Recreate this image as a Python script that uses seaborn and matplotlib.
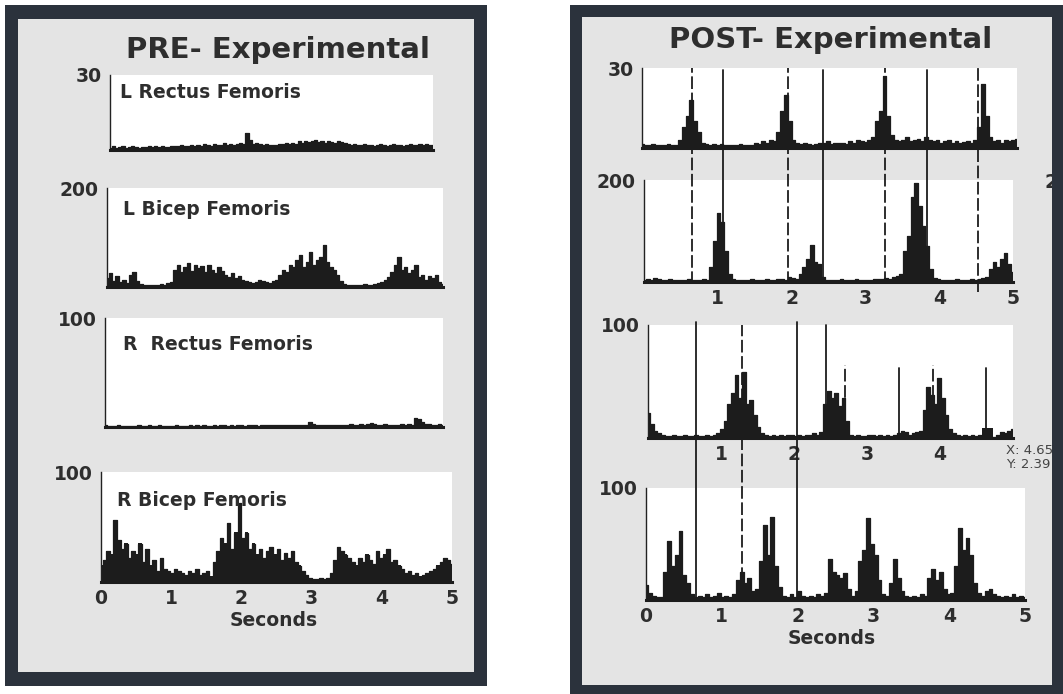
import numpy as np
import matplotlib
matplotlib.use("Agg")
import matplotlib.pyplot as plt
import seaborn as sns
from matplotlib.patches import Rectangle

# ---------------- data (EMG envelopes, 100 samples over 5 s) ----------------
pre_l_rectus = [1, 1.5, 1, 1.2, 1.8, 1, 1.3, 1.5, 1.2, 1, 1.4, 1.2, 1.8, 1.3, 1.5, 1.2, 1.6, 1.4, 1.2, 1.5,
                1.5, 1.8, 2, 1.6, 1.8, 2.2, 1.7, 2, 1.8, 2.4, 2, 1.8, 2.5, 2, 2.2, 2.8, 2, 2.4, 2.2, 2.6,
                3, 2.5, 7, 4, 2.5, 3, 2.4, 2, 2.5, 2.2, 2.2, 2, 2.5, 2.3, 2.8, 2.5, 3, 2.6, 3.5, 3,
                3.8, 3.2, 3.5, 4, 3.2, 3.6, 3, 3.8, 3.4, 3, 3.5, 3.2, 2.8, 2.5, 2.2, 2.4, 2, 2.2, 2.5, 2,
                2.2, 1.8, 2, 2.4, 2, 1.8, 2.2, 2.5, 2, 2.2, 1.8, 2, 2.6, 2.2, 2, 2.4, 2, 2.6, 2.2, 2]
pre_l_bicep = [18, 28, 12, 22, 10, 15, 8, 25, 30, 12, 6, 5, 4, 5, 4, 5, 6, 5, 8, 10,
               35, 45, 30, 40, 48, 32, 45, 38, 42, 30, 44, 35, 28, 40, 32, 25, 20, 28, 18, 22,
               15, 12, 10, 8, 10, 14, 12, 10, 8, 12,
               15, 25, 35, 30, 45, 40, 55, 65, 40, 50, 70, 45, 55, 60, 85, 50, 40, 35, 25, 12,
               6, 5, 4, 5, 4, 5, 6, 5, 4, 6, 8, 10,
               15, 20, 30, 45, 60, 35, 40, 28, 35, 45, 20, 25, 15, 22, 18, 25, 10, 6]
pre_r_rectus = [1.5, 1, 1.2, 1, 1.5, 1.2, 1, 1.3, 1, 1.2, 1.5, 1.2, 1, 1.4, 1.2, 1, 1.5, 1.2, 1.3, 1,
                1.2, 1.5, 1, 1.3, 1.2, 1.6, 1.2, 1.4, 1.2, 1.5, 1.3, 1.2, 1.5, 1.2, 1.6, 1.4, 1.2, 1.5, 1.3, 1.4,
                1.5, 1.3, 1.6, 1.4, 1.5, 1.3, 1.6, 1.5, 1.4, 1.6, 1.5, 1.7, 1.5, 1.6, 1.8, 1.5, 1.7, 1.6, 2, 1.8,
                5, 3, 2, 1.8, 2, 1.8, 2, 1.7, 1.9, 2, 2.2, 2, 2.5, 2.2, 2, 2.4, 2.2, 2.5, 3.5, 2.5,
                2.2, 2, 2.4, 2.2, 2, 2.2, 2, 2.3, 2.2, 2.4, 2.2, 8, 7, 5, 3, 2.5, 2.2, 2, 2.4, 2.2]
pre_r_bicep = [15, 20, 28, 25, 56, 38, 30, 35, 22, 28, 25, 35, 18, 30, 15, 20, 10, 22, 12, 10,
               8, 12, 10, 8, 6, 10, 8, 12, 6, 8, 10, 5, 18, 28, 40, 35, 54, 30, 45, 72,
               40, 45, 30, 35, 25, 30, 22, 28, 32, 25, 30, 20, 26, 22, 28, 18, 15, 10, 6, 4,
               3, 3, 4, 3, 4, 8, 20, 32, 28, 25, 22, 18,
               15, 22, 18, 25, 20, 16, 28, 22, 25, 30, 18, 20, 15, 12,
               8, 10, 6, 8, 5, 6, 8, 10, 12, 15, 18, 22, 20, 16]

post_1 = [1.5, 1, 1.2, 1.5, 1, 1.3, 1.2, 1.5, 1, 1.2, 3, 8, 12, 18, 10, 6, 2, 1.5, 1.2, 1.5,
          1.2, 1.5, 1, 1.3, 1.2, 1, 1.5, 1.2, 1, 1.3, 2, 1.5, 2.5, 2, 3, 2.5,
          6, 14, 20, 10, 3, 2,
          1.5, 2, 1.5, 1.2, 1.5, 2, 1.8, 2.5, 1.5, 2, 1.8, 2, 1.5, 2.5, 2, 3, 2.5, 2.2, 3, 4,
          10, 14, 27, 12, 5,
          3, 2.5, 3, 4, 2.5, 3, 3.5, 2.5, 4, 3, 2.5, 3, 2, 2.5, 3, 2, 2.5, 2, 2.2, 2.5, 2, 3,
          8, 24, 12, 4, 2.5, 3, 2, 3, 2.5, 3, 3.5]
post_2 = [3, 5, 4, 8, 6, 4, 3, 5, 4, 3, 4, 3, 5, 4, 3, 4, 5, 4,
          30, 80, 135, 118, 60,
          15, 6, 4, 3, 4, 3, 5, 4, 3, 4, 5, 3, 4, 6, 5, 4, 10, 8, 6,
          15, 30, 45, 72, 40, 35, 10,
          4, 3, 4, 3, 5, 4, 3, 4, 5, 3, 4, 3, 4, 5, 6, 5, 8, 6, 10, 12, 15,
          60, 90, 166, 195, 150, 110, 70, 25,
          8, 5, 4, 3, 4, 3, 5, 4, 3, 4, 5, 4, 6, 8, 10,
          25, 40, 30, 45, 57, 35, 20]
post_3 = [22, 12, 6, 4, 3, 2, 2, 3, 2, 2, 3, 2, 2, 3, 2, 2, 3, 2, 3, 4,
          8, 15, 30, 40, 56, 35, 58, 30, 34, 20, 10,
          4, 3, 2, 3, 2, 3, 2, 3, 3, 2, 3, 2, 3, 3, 4, 3, 5,
          30, 42, 35, 40, 28, 35, 15,
          3, 2, 3, 2, 2, 3, 3, 2, 3, 2, 3, 2, 3, 4, 6, 5, 3, 4, 5, 6,
          25, 45, 38, 30, 53, 35, 20,
          8, 4, 3, 2, 3, 2, 3, 2, 3, 1, 1, 1, 1, 3, 5, 4, 6, 8]
post_4 = [13, 6, 4, 3, 3, 25, 53, 30, 40, 62, 22, 15,
          5, 3, 4, 3, 5, 3, 4, 6, 3, 4, 3, 5,
          18, 25, 15, 20, 8, 10, 35, 67, 40, 74, 30, 12,
          4, 3, 5, 3, 8, 4, 3, 4, 3, 5, 4, 6,
          37, 25, 22, 20, 24, 10, 4, 8, 35, 45, 73, 50, 40, 18, 5, 4,
          15, 37, 20, 8, 4, 3, 4, 3, 5, 4, 20, 28, 18, 25, 10, 5, 6,
          30, 64, 45, 55, 40, 15, 6, 4, 8, 10, 5, 4, 3, 4, 3, 5, 3, 4, 3]

pre_labels = ["L Rectus Femoris", "L Bicep Femoris", "R  Rectus Femoris", "R Bicep Femoris"]
pre_ymax = [30, 200, 100, 100]
post_ymax = [30, 200, 100, 100]
seconds_ticks = [0, 1, 2, 3, 4, 5]

# event markers (seconds) in the POST panel
upper_solid = [1.07, 2.43, 3.83]
upper_dashed = [0.65, 1.95, 3.27, 4.53]
lower_solid_long = [0.66, 1.99]
lower_solid_short = [2.37, 3.34, 4.49]
lower_dashed_long = [1.27]
lower_dashed_short = [2.63, 3.79]
cursor_x, cursor_y = "4.65", "2.39"
cursor_marker = 9

# ---------------- styling ----------------
sns.set_style("white")
plt.rcParams["font.family"] = ["DejaVu Sans"]
TXT = "#2e2e2e"
FRAME = "#2b323c"
PANEL = "#e4e4e4"
INK = "#1c1c1c"
FS = 13.5

W, H = 1063, 694
fig = plt.figure(figsize=(W / 100, H / 100), dpi=100)
fig.patch.set_facecolor("white")


def fx(x):
    return x / W


def fy(y):
    return 1 - y / H


def rect(x0, y0, x1, y1, color, z):
    fig.add_artist(Rectangle((fx(x0), fy(y1)), (x1 - x0) / W, (y1 - y0) / H,
                             transform=fig.transFigure, facecolor=color,
                             edgecolor="none", zorder=z))


def frame(x0, y0, x1, y1, th):
    rect(x0, y0, x1, y1, PANEL, -5)
    rect(x0, y0, x1, y0 + th[1], FRAME, 20)
    rect(x0, y1 - th[3], x1, y1, FRAME, 20)
    rect(x0, y0, x0 + th[0], y1, FRAME, 20)
    rect(x1 - th[2], y0, x1, y1, FRAME, 20)


frame(5, 5, 487, 686, (13, 14, 13, 14))
frame(570, 5, 1063, 694, (12, 12, 11, 9))


def make_ax(l, t, r, b):
    ax = fig.add_axes([fx(l), fy(b), (r - l) / W, (b - t) / H])
    ax.set_facecolor("white")
    return ax


def draw_trace(ax, vals, ymax, xmax=5.0):
    t = np.linspace(0, xmax, len(vals))
    ax.fill_between(t, 0, vals, step="mid", color=INK, linewidth=0, zorder=2)
    sns.lineplot(x=t, y=vals, ax=ax, color=INK, linewidth=0.9, zorder=3,
                 drawstyle="steps-mid")
    ax.set_xlim(0, xmax)
    ax.set_ylim(0, ymax)
    for s in ["top", "right"]:
        ax.spines[s].set_visible(False)
    ax.spines["left"].set_color("#222222")
    ax.spines["left"].set_linewidth(1.0)
    ax.spines["bottom"].set_color(INK)
    ax.spines["bottom"].set_linewidth(2.2)
    ax.set_yticks([ymax / 3, 2 * ymax / 3, ymax] if ymax == 30 else [ymax / 2, ymax])
    labs = [""] * (len(ax.get_yticks()) - 1) + [str(ymax)]
    ax.set_yticklabels(labs)
    ax.tick_params(axis="y", direction="in", length=4, width=1, pad=6,
                   labelsize=FS, labelcolor=TXT, color="#222222")
    ax.tick_params(axis="x", length=0, pad=5, labelsize=FS, labelcolor=TXT)
    ax.set_xticks([])
    ax.set_xlabel("")
    ax.set_ylabel("")
    for lb in ax.get_yticklabels():
        lb.set_fontweight("bold")


def set_xlabels(ax, ticks):
    ax.set_xticks(ticks)
    ax.set_xticklabels([str(v) for v in ticks], fontweight="bold")


# ---------------- PRE panel ----------------
pre_boxes = [(110, 75, 433, 150), (107, 188, 443, 287), (105, 318, 443, 427), (101, 472, 452, 582)]
pre_data = [pre_l_rectus, pre_l_bicep, pre_r_rectus, pre_r_bicep]
pre_label_pos = [(120, 93), (123, 209), (123, 345), (117, 500)]
for box, vals, ym, lab, lp in zip(pre_boxes, pre_data, pre_ymax, pre_labels, pre_label_pos):
    ax = make_ax(*box)
    draw_trace(ax, vals, ym)
    fig.text(fx(lp[0]), fy(lp[1]), lab, fontsize=FS, fontweight="bold",
             color=TXT, ha="left", va="center")
set_xlabels(ax, seconds_ticks)
fig.text(fx(274), fy(620), "Seconds", fontsize=FS, fontweight="bold", color=TXT,
         ha="center", va="center")
fig.text(fx(278), fy(50), "PRE- Experimental", fontsize=21, fontweight="bold",
         color=TXT, ha="center", va="center")

# ---------------- POST panel ----------------
post_boxes = [(642, 68, 1017, 148), (644, 180, 1013, 282), (648, 325, 1013, 438), (646, 488, 1025, 600)]
post_data = [post_1, post_2, post_3, post_4]
post_axes = []
for box, vals, ym in zip(post_boxes, post_data, post_ymax):
    ax = make_ax(*box)
    draw_trace(ax, vals, ym)
    post_axes.append((ax, box))
set_xlabels(post_axes[1][0], [1, 2, 3, 4, 5])
set_xlabels(post_axes[2][0], [1, 2, 3, 4])
set_xlabels(post_axes[3][0], seconds_ticks)
fig.text(fx(832), fy(638), "Seconds", fontsize=FS, fontweight="bold", color=TXT,
         ha="center", va="center")
fig.text(fx(831), fy(40), "POST- Experimental", fontsize=21, fontweight="bold",
         color=TXT, ha="center", va="center")


def vline(host, t, y_top, y_bot, dashed):
    ax, (l, top, r, b) = host
    h = b - top
    kw = dict(color=INK, linewidth=1.3, clip_on=False, zorder=6)
    ln = ax.axvline(t, ymin=(b - y_bot) / h, ymax=(b - y_top) / h, **kw)
    if dashed:
        ln.set_dashes((7, 2))


up = post_axes[1]
for t in upper_solid:
    vline(up, t, 70, 282, False)
for t in upper_dashed:
    vline(up, t, 68, 284 if t < 4.5 else 292, True)
lo = post_axes[3]
for t in lower_solid_long:
    vline(lo, t, 322, 598, False)
for t in lower_solid_short:
    vline(lo, t, 325 if t < 3 else 368, 436, False)
for t in lower_dashed_long:
    vline(lo, t, 325, 580, True)
for t in lower_dashed_short:
    vline(lo, t, 365, 414, True)

# data-cursor marker and tip
ax3 = post_axes[2][0]
ax3.bar([float(cursor_x)], [cursor_marker], width=0.15, color=INK, linewidth=0, zorder=4)
fig.text(fx(1006), fy(451), "X: " + cursor_x, fontsize=9.5, color="#444444",
         ha="left", va="center", zorder=10)
fig.text(fx(1006), fy(464), "Y: " + cursor_y, fontsize=9.5, color="#444444",
         ha="left", va="center", zorder=10)
fig.text(fx(1045), fy(182), "2", fontsize=FS, fontweight="bold", color=TXT,
         ha="left", va="center", zorder=10)

fig.savefig("out.png", dpi=100)
